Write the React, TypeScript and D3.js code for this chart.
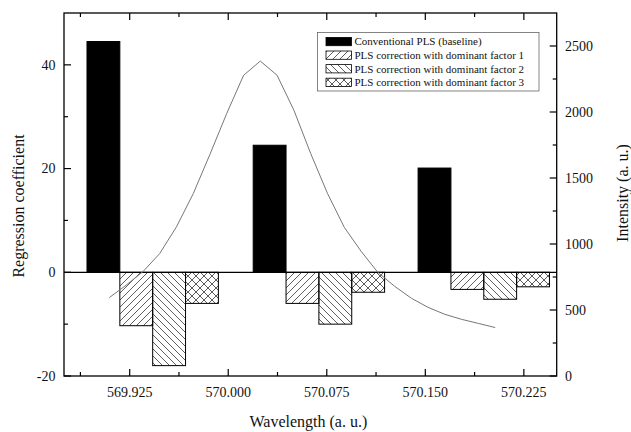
import React from "react";
import * as d3 from "d3";

const W = 631;
const H = 432;
const margin = { top: 13, right: 74.3, bottom: 56, left: 64 };

// Bar groups (centre wavelength of the first bar in each group)
const groupWavelengths = [569.905, 570.0315, 570.157];
const barWidthUnits = 0.025;
const seriesNames = [
  "Conventional PLS (baseline)",
  "PLS correction with dominant factor 1",
  "PLS correction with dominant factor 2",
  "PLS correction with dominant factor 3",
];
const baseline = [44.5, 24.5, 20.1];
const factor1 = [-10.3, -6.0, -3.3];
const factor2 = [-18.0, -10.0, -5.2];
const factor3 = [-6.0, -3.85, -2.8];
const seriesValues = [baseline, factor1, factor2, factor3];
const fills = ["#000", "url(#hatchF)", "url(#hatchB)", "url(#hatchX)"];

// Intensity spectrum
const specWavelength = [
  569.9095, 569.9223, 569.935, 569.9478, 569.9606, 569.9734, 569.9861, 569.9989,
  570.0117, 570.0244, 570.0372, 570.05, 570.0627, 570.0755, 570.0883, 570.1011,
  570.1138, 570.1266, 570.1394, 570.1521, 570.1649, 570.1777, 570.1905, 570.2032,
];
const specIntensity = [
  594, 688, 790, 927, 1130, 1382, 1680, 1990, 2278, 2386, 2278, 2013, 1687, 1384,
  1127, 945, 786, 680, 589, 520, 467, 429, 398, 367,
];

const xTicks = [569.925, 570.0, 570.075, 570.15, 570.225];
const xMinorTicks = [569.8875, 569.9625, 570.0375, 570.1125, 570.1875];
const yLeftTicks = [-20, 0, 20, 40];
const yLeftMinor = [-10, 10, 30];
const yRightTicks = [0, 500, 1000, 1500, 2000, 2500];
const yRightMinor = [250, 750, 1250, 1750, 2250];

const xDomain = [569.875, 570.25];
const yLeftDomain = [-20, 50];
const yRightDomain = [0, 2750];

const FONT = "'Liberation Serif', serif";

export default function App() {
  const iw = W - margin.left - margin.right;
  const ih = H - margin.top - margin.bottom;
  const x0 = margin.left;
  const x1 = margin.left + iw;
  const y0 = margin.top;
  const y1 = margin.top + ih;

  const x = d3.scaleLinear().domain(xDomain).range([x0, x1]);
  const yL = d3.scaleLinear().domain(yLeftDomain).range([y1, y0]);
  const yR = d3.scaleLinear().domain(yRightDomain).range([y1, y0]);

  const line = d3
    .line<number>()
    .x((_, i) => x(specWavelength[i]))
    .y((d) => yR(d));

  const tickColor = "#000";
  const textColor = "#111";
  const bw = x(xDomain[0] + barWidthUnits) - x(xDomain[0]);
  const ts = { fontFamily: FONT } as React.CSSProperties;

  const bars: React.ReactNode[] = [];
  groupWavelengths.forEach((gw, gi) => {
    seriesValues.forEach((vals, si) => {
      const c = gw + si * barWidthUnits;
      const left = x(c - barWidthUnits / 2);
      const v = vals[gi];
      const top = Math.min(yL(v), yL(0));
      const h = Math.abs(yL(v) - yL(0));
      bars.push(
        <rect
          key={`b${gi}-${si}`}
          x={left}
          y={top}
          width={bw}
          height={h}
          fill={fills[si]}
          stroke="#000"
          strokeWidth={1}
        />
      );
    });
  });

  const legX = 317.5;
  const legY = 32.5;
  const legW = 221.5;
  const legH = 58.5;
  const rowY = [41.7, 55.3, 68.9, 82.5];

  return (
    <svg
      width={W}
      height={H}
      style={{ position: "absolute", left: 0, top: 0, background: "#fff" }}
    >
      <defs>
        <pattern id="hatchF" patternUnits="userSpaceOnUse" width={7} height={7}>
          <path d="M-1,1 l2,-2 M0,7 l7,-7 M6,8 l2,-2" stroke="#333" strokeWidth={0.8} />
        </pattern>
        <pattern id="hatchB" patternUnits="userSpaceOnUse" width={7} height={7}>
          <path d="M-1,6 l2,2 M0,0 l7,7 M6,-1 l2,2" stroke="#333" strokeWidth={0.8} />
        </pattern>
        <pattern id="hatchX" patternUnits="userSpaceOnUse" width={8} height={8}>
          <path
            d="M-1,1 l2,-2 M0,8 l8,-8 M7,9 l2,-2 M-1,7 l2,2 M0,0 l8,8 M7,-1 l2,2"
            stroke="#333"
            strokeWidth={0.8}
          />
        </pattern>
      </defs>
      <rect x={0} y={0} width={W} height={H} fill="#fff" />

      {bars}

      {/* zero line */}
      <line x1={x0} x2={x1} y1={yL(0)} y2={yL(0)} stroke="#000" strokeWidth={1.2} />

      {/* spectrum */}
      <path d={line(specIntensity) || ""} fill="none" stroke="#777" strokeWidth={1} />

      {/* frame */}
      <rect x={x0} y={y0} width={iw} height={ih} fill="none" stroke="#000" strokeWidth={1.3} />

      {/* x ticks bottom & top */}
      {xTicks.map((t) => (
        <g key={`xt${t}`}>
          <line x1={x(t)} x2={x(t)} y1={y1} y2={y1 - 7} stroke={tickColor} strokeWidth={1.2} />
          <line x1={x(t)} x2={x(t)} y1={y0} y2={y0 + 7} stroke={tickColor} strokeWidth={1.2} />
          <text x={x(t)} y={396.5} fontSize={14} textAnchor="middle" fill={textColor} style={ts}>
            {t.toFixed(3)}
          </text>
        </g>
      ))}
      {xMinorTicks.map((t) => (
        <g key={`xm${t}`}>
          <line x1={x(t)} x2={x(t)} y1={y1} y2={y1 - 4} stroke={tickColor} strokeWidth={1.2} />
          <line x1={x(t)} x2={x(t)} y1={y0} y2={y0 + 4} stroke={tickColor} strokeWidth={1.2} />
        </g>
      ))}

      {/* left axis ticks */}
      {yLeftTicks.map((t) => (
        <g key={`yl${t}`}>
          <line x1={x0} x2={x0 + 7} y1={yL(t)} y2={yL(t)} stroke={tickColor} strokeWidth={1.2} />
          <text x={55.5} y={yL(t) + 4.8} fontSize={14} textAnchor="end" fill={textColor} style={ts}>
            {t}
          </text>
        </g>
      ))}
      {yLeftMinor.map((t) => (
        <line key={`ylm${t}`} x1={x0} x2={x0 + 4} y1={yL(t)} y2={yL(t)} stroke={tickColor} strokeWidth={1.2} />
      ))}

      {/* right axis ticks */}
      {yRightTicks.map((t) => (
        <g key={`yr${t}`}>
          <line x1={x1} x2={x1 - 7} y1={yR(t)} y2={yR(t)} stroke={tickColor} strokeWidth={1.2} />
          <text x={565} y={yR(t) + 4.8} fontSize={14} textAnchor="start" fill={textColor} style={ts}>
            {t}
          </text>
        </g>
      ))}
      {yRightMinor.map((t) => (
        <line key={`yrm${t}`} x1={x1} x2={x1 - 4} y1={yR(t)} y2={yR(t)} stroke={tickColor} strokeWidth={1.2} />
      ))}

      {/* axis titles */}
      <text x={(x0 + x1) / 2 - 2} y={427} fontSize={16} textAnchor="middle" fill={textColor} style={ts}>
        Wavelength (a. u.)
      </text>
      <text
        transform={`translate(23.5, 206) rotate(-90)`}
        fontSize={16}
        textAnchor="middle"
        fill={textColor}
        style={ts}
      >
        Regression coefficient
      </text>
      <text
        transform={`translate(628, 193) rotate(-90)`}
        fontSize={16}
        textAnchor="middle"
        fill={textColor}
        style={ts}
      >
        Intensity (a. u.)
      </text>

      {/* legend */}
      <rect x={legX} y={legY} width={legW} height={legH} fill="#fff" stroke="#666" strokeWidth={0.8} />
      {seriesNames.map((name, i) => (
        <g key={`lg${i}`}>
          <rect
            x={326}
            y={rowY[i] - 4.3}
            width={25.5}
            height={8.3}
            fill={fills[i]}
            stroke="#000"
            strokeWidth={0.8}
          />
          <text x={354.5} y={rowY[i] + 3.6} fontSize={11} fill={textColor} style={ts}>
            {name}
          </text>
        </g>
      ))}
    </svg>
  );
}
